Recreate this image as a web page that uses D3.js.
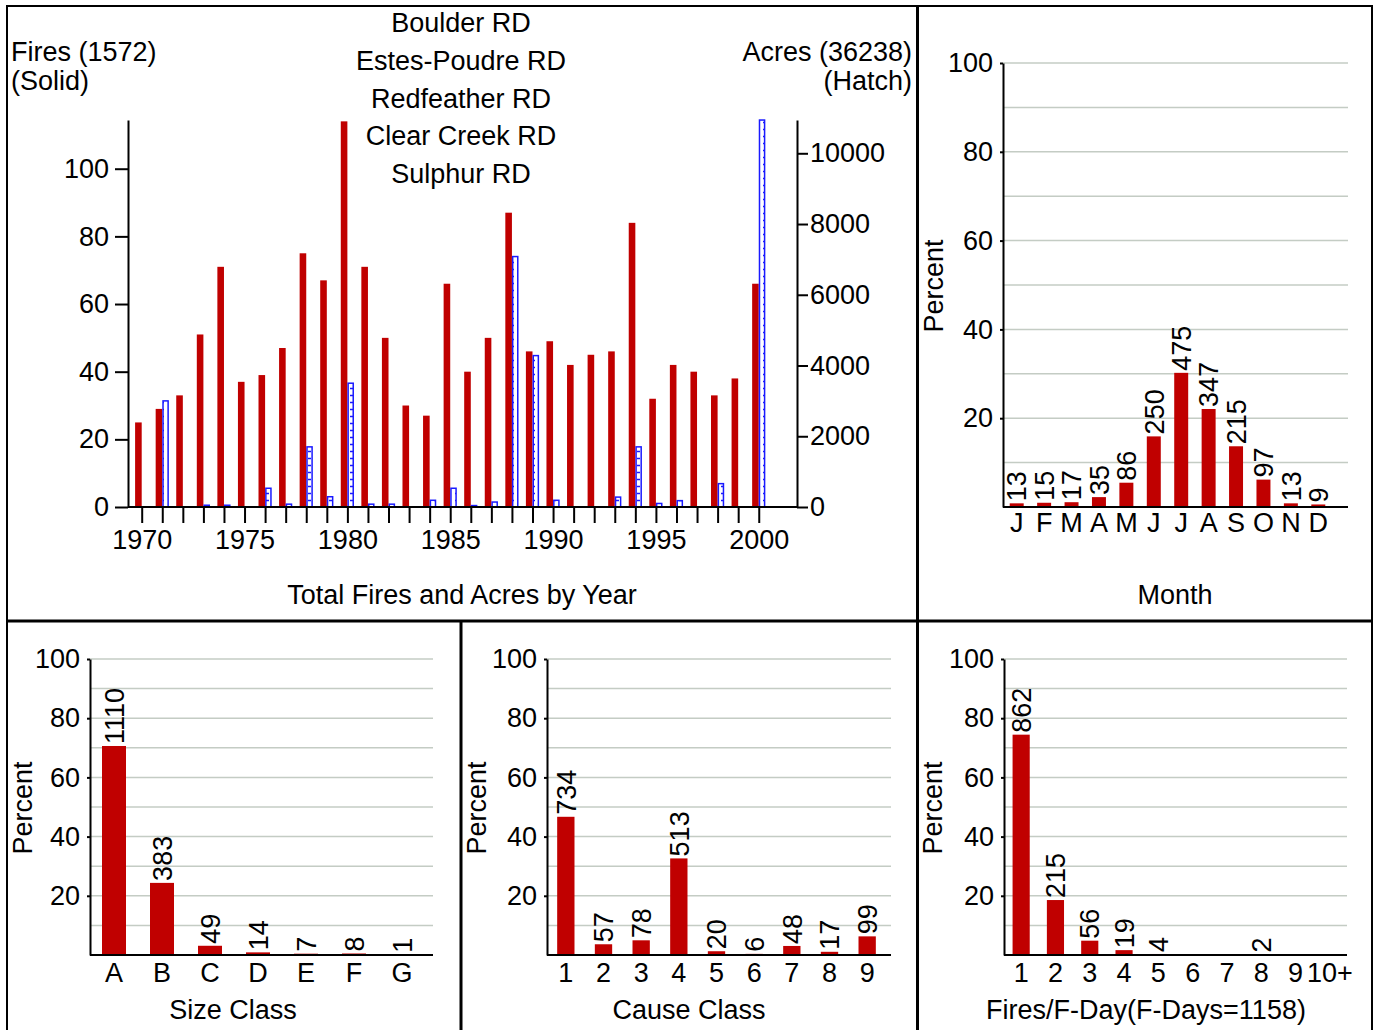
<!DOCTYPE html>
<html>
<head>
<meta charset="utf-8">
<script src="https://cdn.jsdelivr.net/npm/d3@7"></script>
<style>
body { margin: 0; background: #fff; }
svg text { font-family: "Liberation Sans", Arial, sans-serif; font-size: 27px; fill: #000; }
.axis text { font-size: 27px; font-family: "Liberation Sans", Arial, sans-serif; }
.axis path, .axis line { stroke: #000; stroke-width: 2; }
.grid line { stroke: #c4ccc4; stroke-width: 1.5; }
</style>
</head>
<body>
<svg id="chart" width="1377" height="1030"></svg>
<script>
// fires & acres by year
var years = [1970,1971,1972,1973,1974,1975,1976,1977,1978,1979,1980,1981,1982,1983,1984,1985,
             1986,1987,1988,1989,1990,1991,1992,1993,1994,1995,1996,1997,1998,1999,2000];
var fires = [25,29,33,51,71,37,39,47,75,67,114,71,50,30,27,66,40,50,87,46,49,42,45,46,84,32,42,40,33,38,66];
var acres = [0,3000,0,50,50,0,530,80,1700,290,3500,80,80,0,190,530,40,140,7080,4280,190,0,0,280,1700,100,180,0,660,0,10940];
var titleLines = ["Boulder RD", "Estes-Poudre RD", "Redfeather RD", "Clear Creek RD", "Sulphur RD"];

// percent panels (counts of fires)
var months = ["J","F","M","A","M","J","J","A","S","O","N","D"];
var monthCounts = [13,15,17,35,86,250,475,347,215,97,13,9];
var sizeClasses = ["A","B","C","D","E","F","G"];
var sizeCounts = [1110,383,49,14,7,8,1];
var causeClasses = ["1","2","3","4","5","6","7","8","9"];
var causeCounts = [734,57,78,513,20,6,48,17,99];
var fdayClasses = ["1","2","3","4","5","6","7","8","9","10+"];
var fdayCounts = [862,215,56,19,4,0,0,2,0,0];

var totalFires = 1572, totalAcres = 36238, fDays = 1158;
var red = "#c00000", blue = "#1a1aff";

var svg = d3.select("#chart");

// hatch pattern for acres bars
var pat = svg.append("defs").append("pattern")
    .attr("id", "hatch").attr("patternUnits", "userSpaceOnUse")
    .attr("width", 7).attr("height", 7);
pat.append("rect").attr("width", 7).attr("height", 7).attr("fill", "#fff");
pat.append("path").attr("d", "M0,3.5h3").attr("stroke", blue).attr("stroke-width", 1.5);

// ---------- main chart ----------
var x = d3.scaleLinear().domain([1969.334, 2001.86]).range([128, 797]);
var yF = d3.scaleLinear().domain([0, 114.4]).range([507, 120]);
var yA = d3.scaleLinear().domain([0, 10941]).range([507, 120]);
var bw = 6.6;

svg.append("g").selectAll("rect").data(years).enter().append("rect")
    .attr("x", function(d) { return x(d) - bw; })
    .attr("y", function(d, i) { return yF(fires[i]); })
    .attr("width", bw)
    .attr("height", function(d, i) { return yF(0) - yF(fires[i]); })
    .attr("fill", red);

svg.append("g").selectAll("rect").data(years.filter(function(d, i) { return acres[i] > 0; })).enter().append("rect")
    .attr("x", function(d) { return x(d) + 0.75; })
    .attr("y", function(d) { return yA(acres[years.indexOf(d)]); })
    .attr("width", bw - 1.5)
    .attr("height", function(d) { return yA(0) - yA(acres[years.indexOf(d)]); })
    .attr("fill", "url(#hatch)")
    .attr("stroke", blue).attr("stroke-width", 1.5);

svg.append("g").attr("class", "axis").attr("transform", "translate(128,0)")
    .call(d3.axisLeft(yF).tickValues([0,20,40,60,80,100]).tickSize(13).tickPadding(6).tickSizeOuter(0));
svg.append("g").attr("class", "axis").attr("transform", "translate(797,0)")
    .call(d3.axisRight(yA).tickValues([0,2000,4000,6000,8000,10000]).tickSize(11).tickPadding(2)
        .tickSizeOuter(0).tickFormat(d3.format("d")));
var xa = svg.append("g").attr("class", "axis").attr("transform", "translate(0,507)")
    .call(d3.axisBottom(x).tickValues(years).tickSize(16).tickPadding(7)
        .tickFormat(function(d) { return d % 5 === 0 ? d : ""; }));
xa.select(".domain").remove();
svg.append("line").attr("x1", 128).attr("x2", 797).attr("y1", 507).attr("y2", 507)
    .attr("stroke", "#000").attr("stroke-width", 2);

svg.append("g").selectAll("text").data(titleLines).enter().append("text")
    .attr("x", 461).attr("y", function(d, i) { return 32 + i * 37.8; })
    .attr("text-anchor", "middle").text(function(d) { return d; });
svg.append("text").attr("x", 11).attr("y", 61).text("Fires (" + totalFires + ")");
svg.append("text").attr("x", 11).attr("y", 90).text("(Solid)");
svg.append("text").attr("x", 912).attr("y", 61).attr("text-anchor", "end").text("Acres (" + totalAcres + ")");
svg.append("text").attr("x", 912).attr("y", 90).attr("text-anchor", "end").text("(Hatch)");
svg.append("text").attr("x", 462).attr("y", 604).attr("text-anchor", "middle").text("Total Fires and Acres by Year");

// ---------- percent panels ----------
function pctChart(cats, counts, total, left, right, bandRight, top, bottom, pad, title, titleX, titleY, percentX, labelPad) {
    var idx = cats.map(function(d, i) { return i; });
    var xs = d3.scaleBand().domain(idx).range([left, bandRight]).paddingInner(pad).paddingOuter(pad / 2);
    var ys = d3.scaleLinear().domain([0, 100]).range([bottom, top]);
    var pct = function(i) { return counts[i] / total * 100; };
    var g = svg.append("g");

    g.append("g").attr("class", "grid").selectAll("line")
        .data([10,20,30,40,50,60,70,80,90,100]).enter().append("line")
        .attr("x1", left).attr("x2", right)
        .attr("y1", function(d) { return ys(d); }).attr("y2", function(d) { return ys(d); });

    g.append("g").selectAll("rect").data(idx).enter().append("rect")
        .attr("x", function(i) { return xs(i); })
        .attr("y", function(i) { return ys(pct(i)); })
        .attr("width", xs.bandwidth())
        .attr("height", function(i) { return bottom - ys(pct(i)); })
        .attr("fill", red);

    g.append("g").selectAll("text").data(idx.filter(function(i) { return counts[i] > 0; })).enter().append("text")
        .attr("transform", function(i) {
            return "translate(" + (xs(i) + xs.bandwidth() / 2) + "," + (ys(pct(i)) - 2) + ") rotate(-90)";
        })
        .attr("dy", "0.36em")
        .text(function(i) { return counts[i]; });

    g.append("g").attr("class", "axis").attr("transform", "translate(" + left + ",0)")
        .call(d3.axisLeft(ys).tickValues([20,40,60,80,100]).tickSize(3).tickPadding(7).tickSizeOuter(0));
    var xg = g.append("g").attr("class", "axis").attr("transform", "translate(0," + bottom + ")")
        .call(d3.axisBottom(xs).tickSize(0).tickPadding(labelPad).tickFormat(function(i) { return cats[i]; }));
    xg.select(".domain").remove();
    g.append("line").attr("x1", left).attr("x2", right).attr("y1", bottom).attr("y2", bottom)
        .attr("stroke", "#000").attr("stroke-width", 2);

    g.append("text").attr("transform", "translate(" + percentX + "," + ((top + bottom) / 2 + 1) + ") rotate(-90)")
        .attr("text-anchor", "middle").attr("dy", "0.36em").text("Percent");
    g.append("text").attr("x", titleX).attr("y", titleY).attr("text-anchor", "middle").text(title);
}

pctChart(months, monthCounts, totalFires, 1003, 1348, 1332, 63, 507, 0.49, "Month", 1175, 604, 933, 6);
pctChart(sizeClasses, sizeCounts, totalFires, 90, 433, 426, 659, 955, 0.5, "Size Class", 233, 1019, 22, 8);
pctChart(causeClasses, causeCounts, totalFires, 547, 891, 886, 659, 955, 0.54, "Cause Class", 689, 1019, 476, 8);
pctChart(fdayClasses, fdayCounts, fDays, 1004, 1347, 1347, 659, 955, 0.5, "Fires/F-Day(F-Days=" + fDays + ")", 1146, 1019, 932, 8);

// ---------- frame ----------
var frame = [
    [6, 6, 1373, 6], [7, 6, 7, 1030], [1372, 6, 1372, 1030],
    [917.5, 6, 917.5, 1030], [7, 621, 1372, 621], [461, 621, 461, 1030]
];
svg.append("g").selectAll("line").data(frame).enter().append("line")
    .attr("x1", function(d) { return d[0]; }).attr("y1", function(d) { return d[1]; })
    .attr("x2", function(d) { return d[2]; }).attr("y2", function(d) { return d[3]; })
    .attr("stroke", "#000").attr("stroke-width", function(d, i) { return i >= 3 ? 3 : 2; });
</script>
</body>
</html>
